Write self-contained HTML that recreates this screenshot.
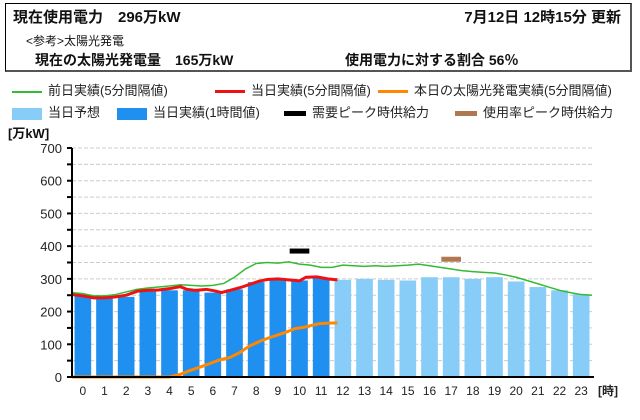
<!DOCTYPE html>
<html><head><meta charset="utf-8">
<style>
body{margin:0;width:640px;height:420px;background:#fff;font-family:"Liberation Sans","Noto Sans CJK JP",sans-serif;overflow:hidden;position:relative}
.box{position:absolute;left:5px;top:3px;width:624px;height:66px;border:1px solid #000;border-right:2px solid #555;border-bottom:2px solid #555}
.t{position:absolute;white-space:nowrap;color:#111}
.b{font-weight:bold}
.lg{position:absolute;font-size:13px;white-space:nowrap;color:#222}
.sw{display:inline-block;vertical-align:middle;margin-right:6px}
</style></head><body>
<div class="box"></div>
<div class="t b" style="left:13px;top:6px;font-size:15px">現在使用電力　296万kW</div>
<div class="t b" style="left:353px;top:6px;font-size:15px;width:268px;text-align:right">7月12日 12時15分 更新</div>
<div class="t" style="left:26px;top:32px;font-size:12px">&lt;参考&gt;太陽光発電</div>
<div class="t b" style="left:35px;top:50px;font-size:14px">現在の太陽光発電量　165万kW</div>
<div class="t b" style="left:345px;top:50px;font-size:14px">使用電力に対する割合 56％</div>

<div class="lg" style="left:12px;top:80px"><span class="sw" style="width:30px;height:2px;background:#33bb33"></span>前日実績(5分間隔値)</div>
<div class="lg" style="left:215px;top:80px"><span class="sw" style="width:30px;height:3px;background:#ee1111"></span>当日実績(5分間隔値)</div>
<div class="lg" style="left:378px;top:80px"><span class="sw" style="width:30px;height:3px;background:#ff8800"></span>本日の太陽光発電実績(5分間隔値)</div>
<div class="lg" style="left:12px;top:102px"><span class="sw" style="width:30px;height:12px;background:#88ccf8"></span>当日予想</div>
<div class="lg" style="left:117px;top:102px"><span class="sw" style="width:30px;height:12px;background:#2090f0"></span>当日実績(1時間値)</div>
<div class="lg" style="left:284px;top:102px"><span class="sw" style="width:22px;height:5px;background:#000"></span>需要ピーク時供給力</div>
<div class="lg" style="left:455px;top:102px"><span class="sw" style="width:22px;height:5px;background:#b07850"></span>使用率ピーク時供給力</div>
<div class="t b" style="left:8px;top:123px;font-size:13px">[万kW]</div>

<svg id="chart" width="640" height="420" style="position:absolute;left:0;top:0"></svg>
<script>
const hours=[0,1,2,3,4,5,6,7,8,9,10,11,12,13,14,15,16,17,18,19,20,21,22,23];
const actualBars=[248,243,245,262,265,265,258,268,290,300,295,302];
const forecastBars=[297,300,297,295,305,305,300,305,292,275,265,253];
const yTicks=[0,100,200,300,400,500,600,700];
const prevT=[0,0.5,1,1.5,2,2.5,3,3.5,4,4.5,5,5.5,6,6.5,7,7.5,8,8.5,9,9.5,10,10.5,11,11.5,12,12.5,13,13.5,14,14.5,15,15.5,16,16.5,17,17.5,18,18.5,19,19.5,20,20.5,21,21.5,22,22.5,23,23.5,24];
const prevV=[258,255,248,248,252,260,268,272,275,278,282,280,278,280,286,305,330,347,350,348,352,345,342,335,335,342,340,338,340,338,340,342,345,340,335,330,325,322,320,318,312,305,295,285,275,265,258,252,250];
const todayT=[0,0.5,1,1.5,2,2.5,3,3.5,4,4.5,5,5.3,5.7,6.2,6.6,6.9,7.3,7.8,8.2,8.6,9,9.5,10,10.5,10.8,11.3,11.8,12.25];
const todayV=[252,248,242,242,245,250,262,265,266,270,276,268,265,268,263,258,265,274,283,292,298,300,297,294,305,306,300,297];
const solarT=[0,1,2,3,4,4.5,5,5.45,5.9,6.4,6.8,7.3,7.75,8.2,8.7,9.1,9.8,10.3,10.7,11.2,11.4,12,12.25];
const solarV=[0,0,0,0,0,0,8,20,30,42,52,60,75,95,110,120,135,148,152,160,163,165,165];
const demandPeak={hour:10,value:385};
const usagePeak={hour:17,value:360};

const X0=72,X1=592,Y0=377,Y1=148;
const xs=t=>X0+t*(X1-X0)/24;
const ys=v=>Y0-v*(Y0-Y1)/700;
const svg=document.getElementById('chart');
const NS='http://www.w3.org/2000/svg';
function mk(tag,at){const e=document.createElementNS(NS,tag);for(const k in at)e.setAttribute(k,at[k]);svg.appendChild(e);return e;}
for(let v=50;v<=700;v+=50){const g=mk('line',{x1:X0,x2:X1,y1:ys(v),y2:ys(v),stroke:'#ccc','stroke-dasharray':'4,2'});

}
const bw=(X1-X0)/24;
hours.forEach((h,i)=>{
 const v=i<actualBars.length?actualBars[i]:forecastBars[i-actualBars.length];
 const r=mk('rect',{x:xs(h)+2.5,width:bw-5,y:ys(v),height:Y0-ys(v),fill:i<actualBars.length?'#2090f0':'#88ccf8'});
 
 
 const t=mk('text',{x:xs(h)+bw/2,y:395,'text-anchor':'middle','font-size':12,fill:'#222'});t.textContent=h;
 
 
});
function line(T,V,col,w,name){const p=mk('polyline',{points:T.map((t,i)=>xs(t)+','+ys(V[i])).join(' '),fill:'none',stroke:col,'stroke-width':w});

}
line(prevT,prevV,'#33bb33',1.5,'prev-day-line');
line(solarT,solarV,'#ff8800',3,'solar-line');
line(todayT,todayV,'#ee1111',3,'today-line');
const dp=mk('rect',{x:xs(demandPeak.hour)+1,width:bw-2,y:ys(demandPeak.value)-2.5,height:5,fill:'#000'});


const up=mk('rect',{x:xs(usagePeak.hour)+1,width:bw-2,y:ys(usagePeak.value)-2.5,height:5,fill:'#b07850'});


mk('line',{x1:X0,x2:X0,y1:Y1,y2:Y0+1,stroke:'#000','stroke-width':2});
mk('line',{x1:X0-1,x2:X1+2,y1:Y0,y2:Y0,stroke:'#000','stroke-width':2});
yTicks.forEach(v=>{
 mk('line',{x1:X0-5,x2:X0,y1:ys(v),y2:ys(v),stroke:'#000','stroke-width':2});
 if(v<700)mk('line',{x1:X0-5,x2:X0,y1:ys(v+50),y2:ys(v+50),stroke:'#000','stroke-width':2});
 const t=mk('text',{x:62,y:ys(v)+5,'text-anchor':'end','font-size':13,fill:'#222'});t.textContent=v;
 
 
});
const u=mk('text',{x:598,y:395,'font-size':12,'font-weight':'bold',fill:'#222'});u.textContent='[時]';


</script>
</body></html>
